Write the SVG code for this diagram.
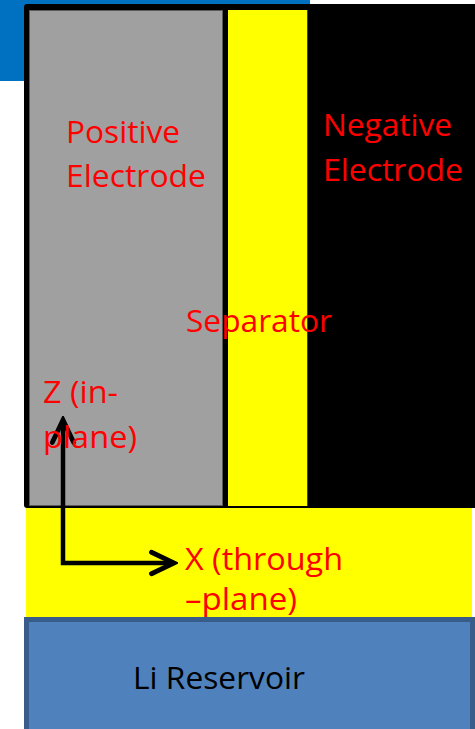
<svg xmlns="http://www.w3.org/2000/svg" width="475" height="729" viewBox="0 0 475 729">
  <style>
    .lbl { font-family: "Open Sans", "Noto Sans", "Liberation Sans", sans-serif; font-size: 31.5px; fill: #ff0000; }
    .blk { fill: #000000; }
    .conn { fill: none; stroke: #000000; stroke-width: 4.5; }
  </style>
  <defs>
    <marker id="chev" markerUnits="userSpaceOnUse" markerWidth="30" markerHeight="30" viewBox="-24 -13 28 26" refX="0" refY="0" orient="auto-start-reverse">
      <path d="M-21,-10 L0,0 L-21,10" fill="none" stroke="#000000" stroke-width="4.5" stroke-linecap="round"/>
    </marker>
  </defs>
  <rect width="475" height="729" fill="#ffffff"/>
  <!-- blue band behind -->
  <rect x="0" y="0" width="310" height="81" fill="#0070c0"/>

  <g id="cell-frame">
    <rect x="24" y="4" width="460" height="504" rx="3" fill="#000000"/>
  </g>

  <g id="positive-electrode">
    <rect x="29.5" y="10.5" width="193" height="495" fill="#a0a0a0" stroke="#5a5a5a" stroke-width="1"/>
    <text class="lbl" x="66" y="143" textLength="114" lengthAdjust="spacingAndGlyphs">Positive</text>
    <text class="lbl" x="66" y="187" textLength="140" lengthAdjust="spacingAndGlyphs">Electrode</text>
  </g>

  <g id="separator">
    <rect x="228" y="10" width="80" height="496" fill="#ffff00"/>
    <line x1="307.5" y1="10" x2="307.5" y2="506" stroke="#4a4a00" stroke-width="1"/>
  </g>

  <g id="negative-electrode">
    <text class="lbl" x="323" y="136" textLength="129" lengthAdjust="spacingAndGlyphs">Negative</text>
    <text class="lbl" x="323" y="181" textLength="140" lengthAdjust="spacingAndGlyphs">Electrode</text>
  </g>

  <g id="separator-label">
    <text class="lbl" x="186" y="332" textLength="146" lengthAdjust="spacingAndGlyphs">Separator</text>
  </g>

  <g id="electrolyte-layer">
    <rect x="26" y="508" width="446" height="110" fill="#ffff00"/>
  </g>

  <g id="li-reservoir">
    <rect x="26.5" y="619.5" width="446" height="115" fill="#4f81bd" stroke="#385d8a" stroke-width="5"/>
    <text class="lbl blk" x="133" y="689" textLength="172" lengthAdjust="spacingAndGlyphs">Li Reservoir</text>
  </g>

  <g id="connectors">
    <polyline class="conn" points="63,420 63,563 174,563" marker-start="url(#chev)" marker-end="url(#chev)"/>
  </g>

  <g id="axis-labels">
    <text class="lbl" x="43" y="403" textLength="75" lengthAdjust="spacingAndGlyphs">Z (in-</text>
    <text class="lbl" x="43" y="448" textLength="94" lengthAdjust="spacingAndGlyphs">plane)</text>
    <text class="lbl" x="185" y="570" textLength="158" lengthAdjust="spacingAndGlyphs">X (through</text>
    <text class="lbl" x="185" y="610" textLength="112" lengthAdjust="spacingAndGlyphs">–plane)</text>
  </g>
</svg>
